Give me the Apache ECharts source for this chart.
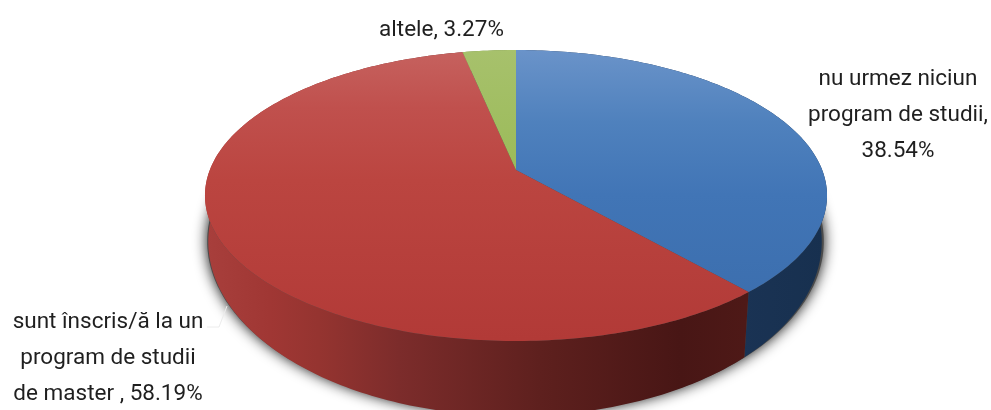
<!DOCTYPE html>
<html><head><meta charset="utf-8">
<style>html,body{margin:0;padding:0;background:#fff}#c{width:991px;height:410px}</style>
<script src="https://cdn.jsdelivr.net/npm/echarts@6/dist/echarts.min.js"></script>
</head><body><div id="c"></div>
<script>
var categories = ['nu urmez niciun\nprogram de studii,', 'sunt înscris/ă la un\nprogram de studii\nde master ,', 'altele,'];
var values = [38.54, 58.19, 3.27];
var labelSeparators = ['\n', ' ', ' '];

var total = values.reduce(function (a, b) { return a + b; }, 0);
var K = 0.1753;
var TOP = { cx: 516, cy: 170, a: 141, b: 306.2 };
var BASE = { cx: 515, cy: 211, a: 169, b: 302 };
var SHADOW = { cx: 515.5, cy: 211, a: 168, b: 303.5 };
var LG = echarts.graphic.LinearGradient;

function project(d, t) {
  var u = Math.sin(t), v = Math.cos(t), w = 1 + K * v;
  return [d.cx + d.b * u / w, d.cy - d.a * v / w];
}
function arc(d, t0, t1) {
  var n = Math.max(8, Math.ceil((t1 - t0) * 60)), pts = [];
  for (var i = 0; i <= n; i++) pts.push(project(d, t0 + (t1 - t0) * i / n));
  return pts;
}
function range(i) {
  var s = 0;
  for (var j = 0; j < i; j++) s += values[j];
  return [s / total * 2 * Math.PI, (s + values[i]) / total * 2 * Math.PI];
}
var topFills = [
  new LG(0, 50, 0, 340, [{offset:0,color:'#6a93c9'},{offset:0.25,color:'#4f81bd'},{offset:0.5,color:'#4175b6'},{offset:1,color:'#3a6cab'}], true),
  new LG(0, 50, 0, 340, [{offset:0,color:'#c6625f'},{offset:0.2,color:'#c0504d'},{offset:0.45,color:'#bb4540'},{offset:1,color:'#b23a37'}], true),
  new LG(0, 50, 0, 170, [{offset:0,color:'#a7c16c'},{offset:1,color:'#9bbb59'}], true)
];
var wallFills = [
  new LG(740, 0, 825, 0, [{offset:0,color:'#1a3354'},{offset:1,color:'#17304f'}], true),
  new LG(205, 0, 745, 0, [{offset:0,color:'#a83f3c'},{offset:0.12,color:'#a03734'},{offset:0.21,color:'#953430'},{offset:0.36,color:'#7c2c2b'},{offset:0.62,color:'#5e201e'},{offset:0.88,color:'#481615'},{offset:1,color:'#4e1917'}], true),
  '#6e8a3a'
];
function wallItem(params, api) {
  var r = range(params.dataIndex), kids = [];
  if (params.dataIndex === 0) {
    kids.push({ type: 'polygon', z2: -1,
      shape: { points: arc(SHADOW, 0, 2 * Math.PI) },
      style: { fill: '#4a4a4a', shadowBlur: 14, shadowColor: 'rgba(0,0,0,0.95)' } });
  }
  var top = arc(TOP, r[0], r[1]), base = arc(BASE, r[0], r[1]).reverse();
  kids.push({ type: 'polygon', shape: { points: top.concat(base) },
    style: { fill: wallFills[params.dataIndex] } });
  return { type: 'group', children: kids };
}
function topItem(params, api) {
  var r = range(params.dataIndex);
  var pts = arc(TOP, r[0], r[1]);
  pts.push([TOP.cx, TOP.cy]);
  return { type: 'polygon', shape: { points: pts },
    style: { fill: topFills[params.dataIndex] } };
}
var labelAnchors = [[898, 115], [108, 358], [441.5, 30]];
function labelItem(params, api) {
  var i = params.dataIndex;
  return { type: 'text', x: labelAnchors[i][0], y: labelAnchors[i][1],
    style: { text: categories[i] + labelSeparators[i] + api.value(0).toFixed(2) + '%',
      fill: '#1f1f1f', font: '22.5px Roboto', lineHeight: 36, align: 'center', verticalAlign: 'middle' } };
}
function leaderItem() {
  return { type: 'polyline', shape: { points: [[207, 327], [219, 327], [227, 306]] },
    style: { fill: null, stroke: '#ececec', lineWidth: 1 } };
}
var chart = echarts.init(document.getElementById('c'), null, { renderer: 'canvas' });
var data = values.map(function (v, i) { return { name: categories[i], value: [v] }; });
chart.setOption({
  animation: false,
  backgroundColor: '#ffffff',
  series: [
    { type: 'custom', coordinateSystem: 'none', silent: true, data: data, renderItem: wallItem, z: 1 },
    { type: 'custom', coordinateSystem: 'none', silent: true, data: data, renderItem: topItem, z: 2 },
    { type: 'custom', coordinateSystem: 'none', silent: true, data: [0], renderItem: leaderItem, z: 3 },
    { type: 'custom', coordinateSystem: 'none', silent: true, data: data, renderItem: labelItem, z: 4 }
  ]
});
</script></body></html>
